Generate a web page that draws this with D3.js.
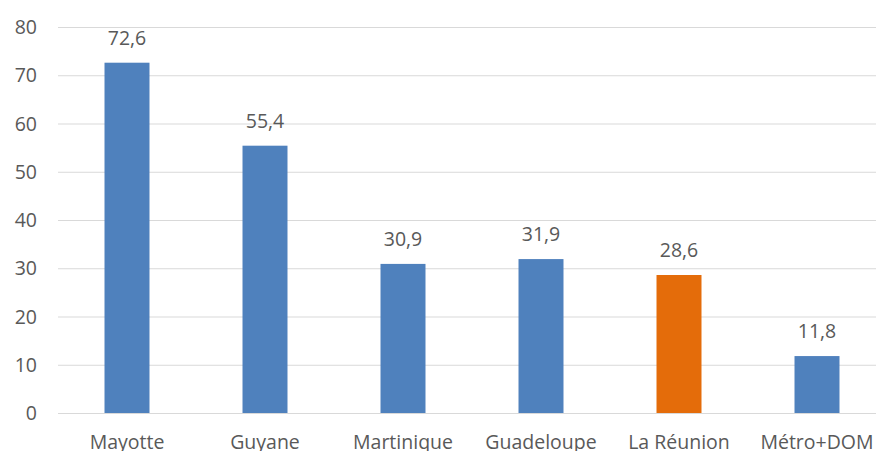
<!DOCTYPE html>
<html><head><meta charset="utf-8">
<script src="https://cdn.jsdelivr.net/npm/d3@7/dist/d3.min.js"></script>
<style>body{margin:0;background:#fff;overflow:hidden}svg{display:block}text{font-family:"Open Sans","Noto Sans",sans-serif;fill:#595959}</style>
</head><body>
<script>
const categories = ["Mayotte","Guyane","Martinique","Guadeloupe","La Réunion","Métro+DOM"];
const values = [72.6,55.4,30.9,31.9,28.6,11.8];
const highlight = ["La Réunion"];
const yTicks = [0,10,20,30,40,50,60,70,80];

const W=876,H=451;
const svg=d3.select("body").append("svg").attr("width",W).attr("height",H);
const x=d3.scaleBand().domain(categories).range([58,886]).paddingInner(0.674).paddingOuter(0.337);
const y=d3.scaleLinear().domain([0,80]).range([413,27]);

svg.append("g").selectAll("line").data(yTicks).join("line")
  .attr("x1",58).attr("x2",W).attr("y1",d=>y(d)+0.5).attr("y2",d=>y(d)+0.5)
  .attr("stroke","#d9d9d9").attr("stroke-width",1);

svg.append("g").selectAll("text").data(yTicks).join("text")
  .attr("x",37).attr("y",d=>y(d)).attr("dy","0.36em").attr("text-anchor","end")
  .attr("font-size",19.5).text(d=>d);

svg.append("g").selectAll("rect").data(categories).join("rect")
  .attr("x",d=>x(d)).attr("width",x.bandwidth())
  .attr("y",(d,i)=>y(values[i])).attr("height",(d,i)=>y(0)-y(values[i]))
  .attr("fill",d=>highlight.includes(d)?"#e46c0a":"#4f81bd");

svg.append("g").selectAll("text").data(categories).join("text")
  .attr("x",d=>x(d)+x.bandwidth()/2).attr("y",(d,i)=>y(values[i])-18)
  .attr("text-anchor","middle").attr("font-size",19.5)
  .text((d,i)=>d3.format(".1f")(values[i]).replace(".",","));

svg.append("g").selectAll("text").data(categories).join("text")
  .attr("x",d=>x(d)+x.bandwidth()/2).attr("y",449)
  .attr("text-anchor","middle").attr("font-size",19.5).text(d=>d);
</script>
</body></html>
